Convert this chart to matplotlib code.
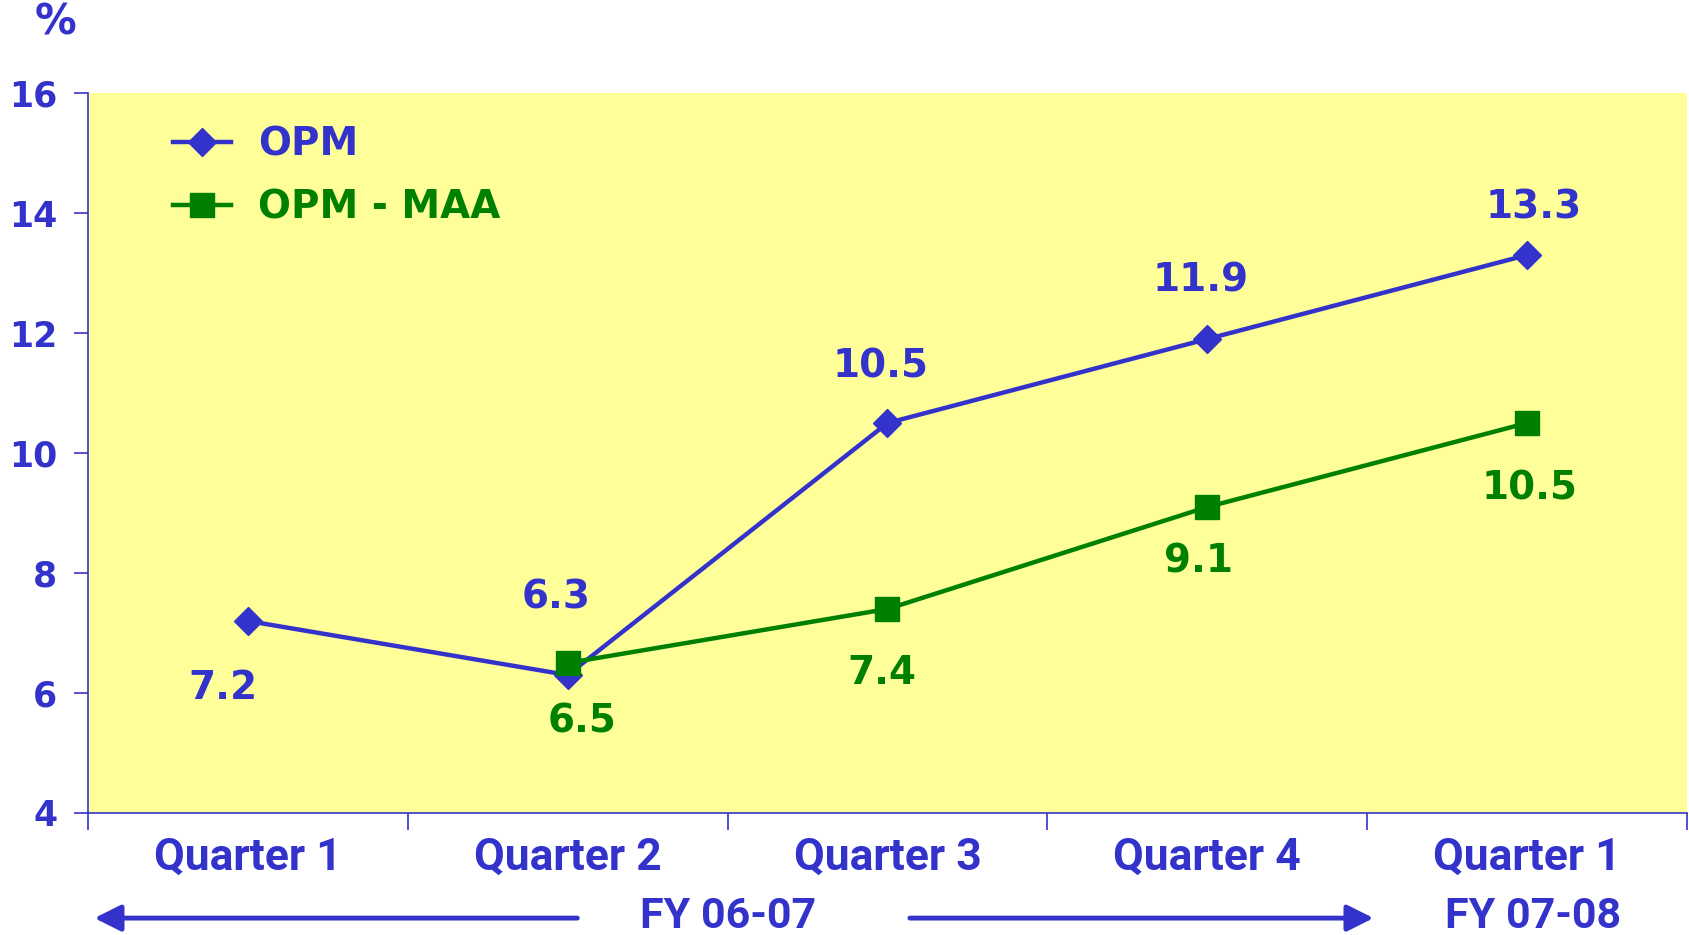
"""OPM vs OPM - MAA by quarter."""

import matplotlib
matplotlib.use("Agg")
import matplotlib.pyplot as plt
import matplotlib.transforms as mtrans

# data
quarters = ["Quarter 1", "Quarter 2", "Quarter 3", "Quarter 4", "Quarter 1"]
opm = [7.2, 6.3, 10.5, 11.9, 13.3]
opm_maa = [None, 6.5, 7.4, 9.1, 10.5]
fy_labels = ["FY 06-07", "FY 07-08"]
y_ticks = [4, 6, 8, 10, 12, 14, 16]

BLUE = "#3333CC"
GREEN = "#008000"
YELLOW = "#FFFF99"
NARROW = "Roboto"

# label offsets in points (dx, dy)
opm_off = [(-18, -48), (-8, 56), (-5, 41), (-5, 42), (5, 34)]
maa_off = [None, (10, -42), (-4, -46), (-6, -39), (2, -47)]

fig = plt.figure(figsize=(16.89, 9.35), dpi=100)
ax = fig.add_axes([0.0521, 0.1305, 0.9467, 0.770])
ax.set_facecolor(YELLOW)

x = list(range(len(quarters)))
ax.plot(x, opm, color=BLUE, lw=3.2, marker="D", ms=14, label="OPM", zorder=3)
x2 = [i for i, v in zip(x, opm_maa) if v is not None]
y2 = [v for v in opm_maa if v is not None]
ax.plot(x2, y2, color=GREEN, lw=3.2, marker="s", ms=17, label="OPM - MAA", zorder=4)

# data labels
for i, v in enumerate(opm):
    ax.annotate(f"{v}", (i, v), xytext=opm_off[i], textcoords="offset points",
                ha="center", va="center", color=BLUE, fontsize=28, fontweight="bold")
for i, v in enumerate(opm_maa):
    if v is None:
        continue
    ax.annotate(f"{v}", (i, v), xytext=maa_off[i], textcoords="offset points",
                ha="center", va="center", color=GREEN, fontsize=28, fontweight="bold")

ax.set_xlim(-0.5, len(quarters) - 0.5)
ax.set_ylim(4, 16)

# ticks between categories, labels at category centres
ax.set_xticks([i - 0.5 for i in range(len(quarters) + 1)])
ax.set_xticklabels([])
ax.set_xticks(x, minor=True)
ax.set_xticklabels(quarters, minor=True, fontfamily=NARROW,
                   fontweight="bold", fontsize=32, color=BLUE)
ax.tick_params(axis="x", which="major", length=12, width=1.2, color=BLUE)
ax.tick_params(axis="x", which="minor", length=0, pad=17)

ax.set_yticks(y_ticks)
ax.set_yticklabels([str(t) for t in y_ticks], fontsize=25, fontweight="bold", color=BLUE)
ax.tick_params(axis="y", length=10, width=1.2, color=BLUE, pad=12)

for side in ["top", "right"]:
    ax.spines[side].set_visible(False)
for side in ["left", "bottom"]:
    ax.spines[side].set_color(BLUE)
    ax.spines[side].set_linewidth(1.2)

leg = ax.legend(loc="upper left", frameon=False, handlelength=1.5,
                handletextpad=0.7, borderaxespad=0.3,
                bbox_to_anchor=(0.036, 0.993), labelspacing=0.66,
                prop={"weight": "bold", "size": 28})
for txt, c in zip(leg.get_texts(), [BLUE, GREEN]):
    txt.set_color(c)

# % unit label
fig.text(0.033, 0.976, "%", color=BLUE, fontsize=30, fontweight="bold",
         ha="center", va="center")

# fiscal year arrows below the axis
trans = mtrans.blended_transform_factory(ax.transData, ax.transAxes)
arrow = dict(arrowstyle="-|>", color=BLUE, lw=3.5, mutation_scale=40,
             shrinkA=0, shrinkB=0)
ax.annotate("", xy=(-0.48, -0.146), xytext=(1.03, -0.146), xycoords=trans,
            textcoords=trans, annotation_clip=False, arrowprops=arrow)
ax.annotate("", xy=(3.52, -0.146), xytext=(2.07, -0.146), xycoords=trans,
            textcoords=trans, annotation_clip=False, arrowprops=arrow)
for xpos, lab in zip([1.5, 4.02], fy_labels):
    ax.text(xpos, -0.144, lab, transform=trans, ha="center", va="center",
            fontfamily=NARROW, fontweight="bold", fontsize=31,
            color=BLUE, clip_on=False)

fig.savefig("out.png", dpi=100)
